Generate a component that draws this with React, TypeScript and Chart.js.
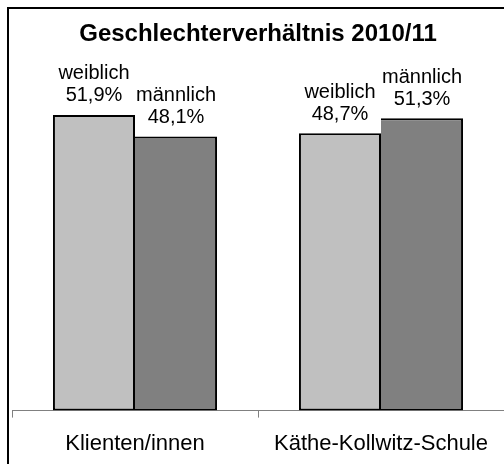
import React, { useEffect, useRef } from "react";
import { Chart, registerables } from "chart.js";

Chart.register(...registerables);

const title = "Geschlechterverhältnis 2010/11";
const categories = ["Klienten/innen", "Käthe-Kollwitz-Schule"];
const seriesNames = ["weiblich", "männlich"];
const weiblich = [51.9, 48.7];
const maennlich = [48.1, 51.3];
const colors = ["#c0c0c0", "#808080"];
const yMax = 60;

const FONT = "'Liberation Sans', Arial, sans-serif";

const labelPlugin = {
  id: "barLabels",
  afterDatasetsDraw(chart: any) {
    const ctx = chart.ctx;
    ctx.save();
    ctx.font = `20px ${FONT}`;
    ctx.fillStyle = "#000";
    ctx.textAlign = "center";
    ctx.textBaseline = "middle";
    chart.data.datasets.forEach((ds: any, di: number) => {
      const meta = chart.getDatasetMeta(di);
      meta.data.forEach((el: any, i: number) => {
        const v = ds.data[i];
        const txt = v.toFixed(1).replace(".", ",") + "%";
        ctx.fillText(ds.label, el.x, el.y - 41);
        ctx.fillText(txt, el.x, el.y - 19);
      });
    });
    ctx.restore();
  },
};

export default function App() {
  const ref = useRef<HTMLCanvasElement>(null);
  useEffect(() => {
    if (!ref.current) return;
    const chart = new Chart(ref.current, {
      type: "bar",
      data: {
        labels: categories,
        datasets: [
          {
            label: seriesNames[0],
            data: weiblich,
            backgroundColor: colors[0],
            borderColor: "#000",
            borderWidth: { top: 2, left: 2, right: 2, bottom: 2 },
            borderSkipped: false,
            categoryPercentage: 0.667,
            barPercentage: 1,
          },
          {
            label: seriesNames[1],
            data: maennlich,
            backgroundColor: colors[1],
            borderColor: "#000",
            borderWidth: { top: 2, left: 0, right: 2, bottom: 2 },
            borderSkipped: false,
            categoryPercentage: 0.667,
            barPercentage: 1,
          },
        ],
      },
      options: {
        animation: false,
        responsive: false,
        maintainAspectRatio: false,
        layout: { padding: { left: 12, right: 0, top: 0, bottom: -6 } },
        plugins: {
          legend: { display: false },
          tooltip: { enabled: false },
          title: {
            display: true,
            text: title,
            color: "#000",
            font: { family: FONT, size: 24, weight: "bold" },
            padding: { top: 20, bottom: 20 },
          },
        },
        scales: {
          y: { display: false, min: 0, max: yMax },
          x: {
            border: { display: true, color: "#808080", width: 1 },
            grid: {
              display: true,
              drawOnChartArea: false,
              drawTicks: true,
              tickLength: 7,
              color: "#808080",
              offset: true,
            },
            ticks: {
              color: "#000",
              font: { family: FONT, size: 22 },
              padding: 13,
              maxRotation: 0,
            },
          },
        },
      },
      plugins: [labelPlugin],
    });
    return () => chart.destroy();
  }, []);
  return (
    <div
      style={{
        position: "fixed",
        left: 0,
        top: 0,
        width: 504,
        height: 464,
        overflow: "hidden",
        background: "#fff",
      }}
    >
      <div
        style={{
          position: "absolute",
          left: 7,
          top: 7,
          width: 1000,
          height: 1000,
          border: "2px solid #000",
        }}
      />
      <canvas
        ref={ref}
        width={504}
        height={464}
        style={{ position: "absolute", left: 0, top: 0, width: 504, height: 464 }}
      />
    </div>
  );
}
